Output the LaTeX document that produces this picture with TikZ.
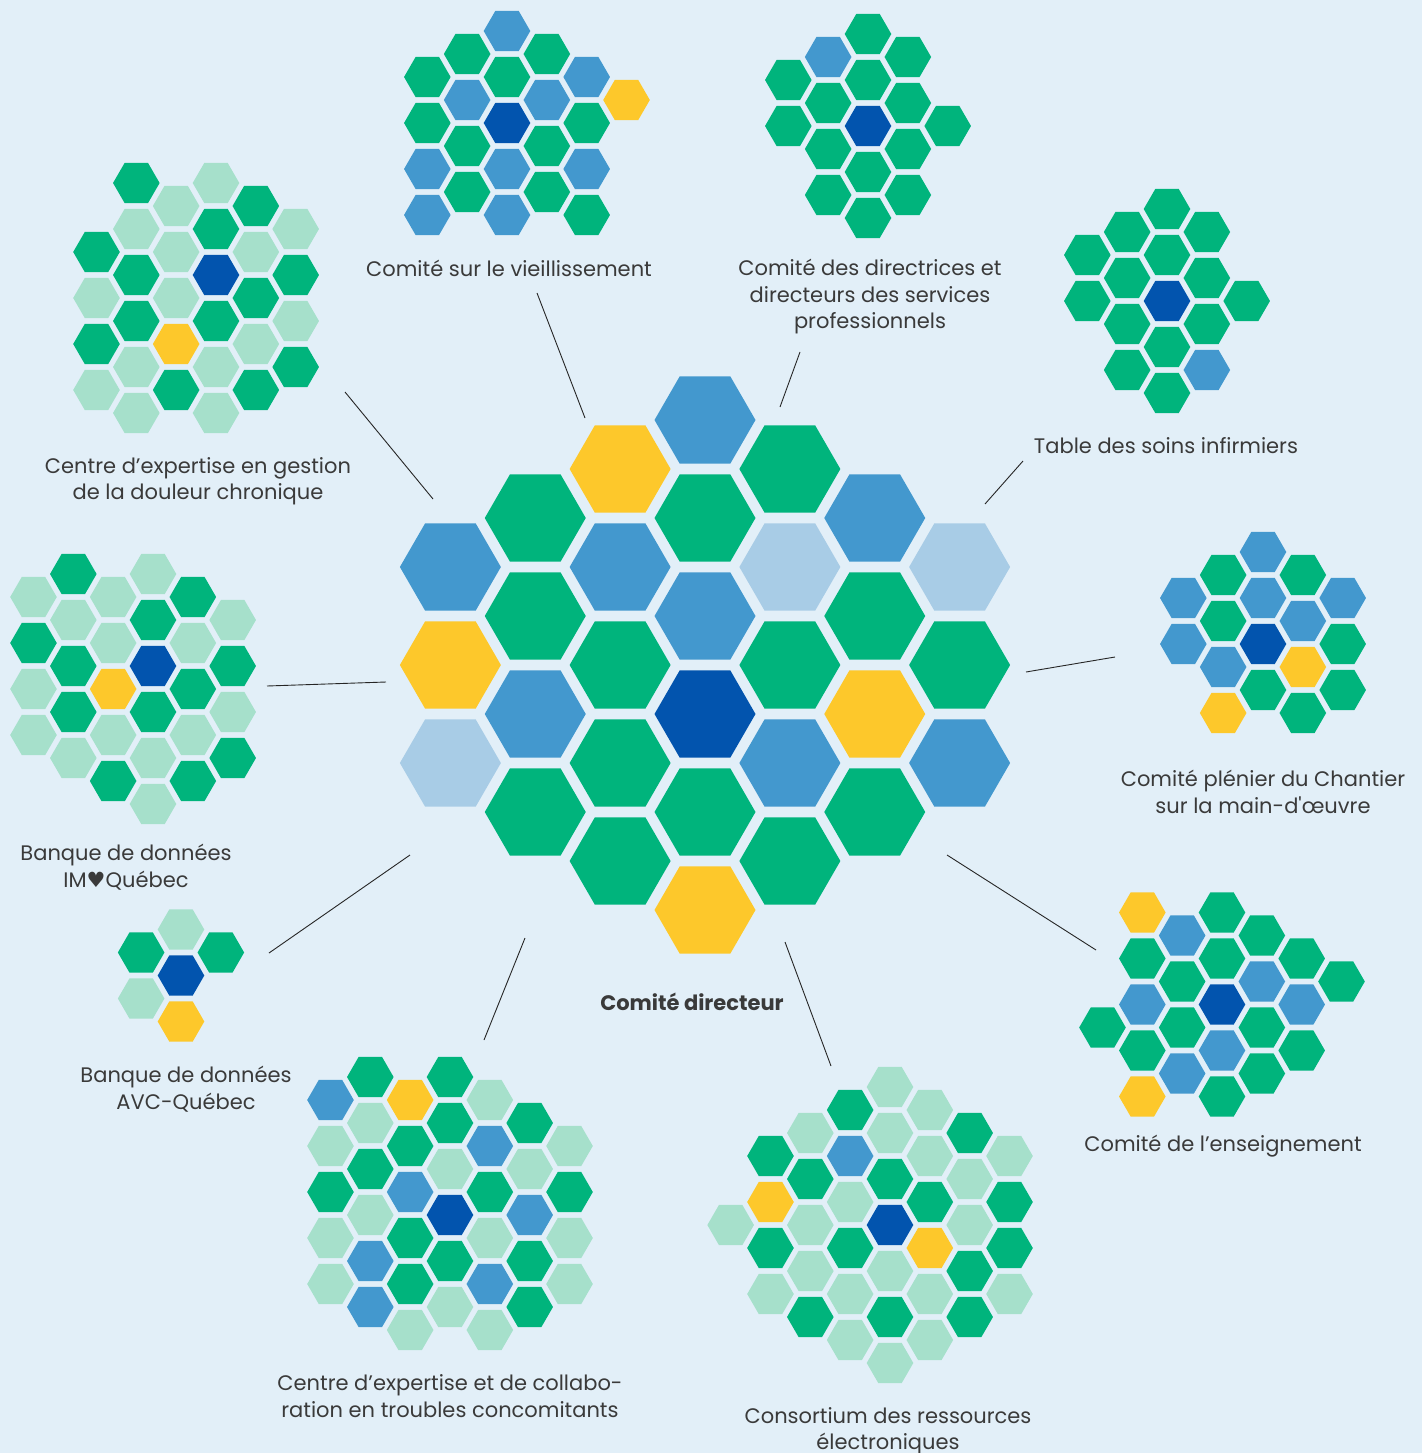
\documentclass[tikz,border=0pt]{standalone}
\usepackage{fontspec}
\setmainfont{Poppins}
\newfontfamily\symfont{DejaVu Sans}
\definecolor{bg}{HTML}{E2EFF8}
\definecolor{hG}{HTML}{00B47C}
\definecolor{hB}{HTML}{4398CE}
\definecolor{hD}{HTML}{0254AE}
\definecolor{hY}{HTML}{FDC82B}
\definecolor{hL}{HTML}{A8CCE6}
\definecolor{hM}{HTML}{A6E0CB}
\definecolor{txt}{HTML}{3A3A3A}
\newcommand\hexcluster[5]{%
  \foreach \c/\k/\col in {#5}{%
    \fill[\col] ({#1+(\c)*#3*0.8660254},{#2+(\k)*#3/2}) +(0:#4) -- +(60:#4) -- +(120:#4) -- +(180:#4) -- +(240:#4) -- +(300:#4) -- cycle;
  }}
\tikzset{
  lbl/.style={text=txt, font=\fontsize{21}{26.5}\selectfont, align=center, inner sep=0pt},
  conn/.style={draw=black!85, line width=0.9pt}
}
\begin{document}
\begin{tikzpicture}[x=1pt,y=-1pt]
\fill[bg] (0,0) rectangle (1422,1453);
\useasboundingbox (0,0) rectangle (1422,1453);

% central cluster
\hexcluster{705}{714}{98}{50.5}{-3/-3/hB,-3/-1/hY,-3/1/hL,
 -2/-4/hG,-2/-2/hG,-2/0/hB,-2/2/hG,
 -1/-5/hY,-1/-3/hB,-1/-1/hG,-1/1/hG,-1/3/hG,
 0/-6/hB,0/-4/hG,0/-2/hB,0/0/hD,0/2/hG,0/4/hY,
 1/-5/hG,1/-3/hL,1/-1/hG,1/1/hB,1/3/hG,
 2/-4/hB,2/-2/hG,2/0/hY,2/2/hG,
 3/-3/hL,3/-1/hG,3/1/hB}

% vieillissement
\hexcluster{507}{123}{46}{23.3}{-2/-2/hG,-2/0/hG,-2/2/hB,-2/4/hB,
 -1/-3/hG,-1/-1/hB,-1/1/hG,-1/3/hG,
 0/-4/hB,0/-2/hG,0/0/hD,0/2/hB,0/4/hB,
 1/-3/hG,1/-1/hB,1/1/hG,1/3/hG,
 2/-2/hB,2/0/hG,2/2/hB,2/4/hG,
 3/-1/hY}

% directrices
\hexcluster{868}{126}{46}{23.3}{-2/-2/hG,-2/0/hG,
 -1/-3/hB,-1/-1/hG,-1/1/hG,-1/3/hG,
 0/-4/hG,0/-2/hG,0/0/hD,0/2/hG,0/4/hG,
 1/-3/hG,1/-1/hG,1/1/hG,1/3/hG,
 2/0/hG}

% soins infirmiers
\hexcluster{1167}{301}{46}{23.3}{-2/-2/hG,-2/0/hG,
 -1/-3/hG,-1/-1/hG,-1/1/hG,-1/3/hG,
 0/-4/hG,0/-2/hG,0/0/hD,0/2/hG,0/4/hG,
 1/-3/hG,1/-1/hG,1/1/hG,1/3/hB,
 2/0/hG}

% plenier
\hexcluster{1263}{644}{46}{23.3}{-2/-2/hB,-2/0/hB,
 -1/-3/hG,-1/-1/hG,-1/1/hB,-1/3/hY,
 0/-4/hB,0/-2/hB,0/0/hD,0/2/hG,
 1/-3/hG,1/-1/hB,1/1/hY,1/3/hG,
 2/-2/hB,2/0/hG,2/2/hG}

% enseignement
\hexcluster{1222}{1004.5}{46}{23.3}{-3/1/hG,
 -2/-4/hY,-2/-2/hG,-2/0/hB,-2/2/hG,-2/4/hY,
 -1/-3/hB,-1/-1/hG,-1/1/hG,-1/3/hB,
 0/-4/hG,0/-2/hG,0/0/hD,0/2/hB,0/4/hG,
 1/-3/hG,1/-1/hB,1/1/hG,1/3/hG,
 2/-2/hG,2/0/hB,2/2/hG,
 3/-1/hG}

% consortium
\hexcluster{890}{1225}{46}{23.3}{-4/0/hM,
 -3/-3/hG,-3/-1/hY,-3/1/hG,-3/3/hM,
 -2/-4/hM,-2/-2/hG,-2/0/hM,-2/2/hM,-2/4/hG,
 -1/-5/hG,-1/-3/hB,-1/-1/hM,-1/1/hG,-1/3/hM,-1/5/hM,
 0/-6/hM,0/-4/hM,0/-2/hG,0/0/hD,0/2/hM,0/4/hG,0/6/hM,
 1/-5/hM,1/-3/hM,1/-1/hG,1/1/hY,1/3/hM,1/5/hM,
 2/-4/hG,2/-2/hM,2/0/hM,2/2/hG,2/4/hG,
 3/-3/hM,3/-1/hG,3/1/hG,3/3/hM}

% troubles concomitants
\hexcluster{450}{1215}{46}{23.3}{-3/-5/hB,-3/-3/hM,-3/-1/hG,-3/1/hM,-3/3/hM,
 -2/-6/hG,-2/-4/hM,-2/-2/hG,-2/0/hM,-2/2/hB,-2/4/hB,
 -1/-5/hY,-1/-3/hG,-1/-1/hB,-1/1/hG,-1/3/hG,-1/5/hM,
 0/-6/hG,0/-4/hG,0/-2/hM,0/0/hD,0/2/hG,0/4/hM,
 1/-5/hM,1/-3/hB,1/-1/hG,1/1/hM,1/3/hB,1/5/hM,
 2/-4/hG,2/-2/hM,2/0/hB,2/2/hG,2/4/hG,
 3/-3/hM,3/-1/hG,3/1/hM,3/3/hM}

% AVC
\hexcluster{181}{975.5}{46}{23.3}{-1/-1/hG,-1/1/hM,0/-2/hM,0/0/hD,0/2/hY,1/-1/hG}

% IM Quebec
\hexcluster{153}{666}{46}{23.3}{-3/-3/hM,-3/-1/hG,-3/1/hM,-3/3/hM,
 -2/-4/hG,-2/-2/hM,-2/0/hG,-2/2/hG,-2/4/hM,
 -1/-3/hM,-1/-1/hM,-1/1/hY,-1/3/hM,-1/5/hG,
 0/-4/hM,0/-2/hG,0/0/hD,0/2/hG,0/4/hM,0/6/hM,
 1/-3/hG,1/-1/hM,1/1/hG,1/3/hM,1/5/hG,
 2/-2/hM,2/0/hG,2/2/hM,2/4/hG}

% douleur
\hexcluster{216}{275}{46}{23.3}{-3/-1/hG,-3/1/hM,-3/3/hG,-3/5/hM,
 -2/-4/hG,-2/-2/hM,-2/0/hG,-2/2/hG,-2/4/hM,-2/6/hM,
 -1/-3/hM,-1/-1/hM,-1/1/hM,-1/3/hY,-1/5/hG,
 0/-4/hM,0/-2/hG,0/0/hD,0/2/hG,0/4/hM,0/6/hM,
 1/-3/hG,1/-1/hM,1/1/hG,1/3/hM,1/5/hG,
 2/-2/hM,2/0/hG,2/2/hM,2/4/hG}

% labels
\node[lbl] (Lv) at (509,268) {Comité sur le vieillissement};
\node[lbl] (Ld) at (870,297) {Comité des directrices et\\directeurs des services\\professionnels};
\node[lbl] (Ls) at (1166,446) {Table des soins infirmiers};
\node[lbl] (Lp) at (1263,792) {Comité plénier du Chantier\\sur la main-d\textquotesingle œuvre};
\node[lbl] (Le) at (1223,1146) {Comité de l’enseignement};
\node[lbl] (Lc) at (888,1431) {Consortium des ressources\\électroniques};
\node[lbl] (Lt) at (450,1396) {Centre d’expertise et de collabo-\\ration en troubles concomitants};
\node[lbl, font=\fontsize{21}{26.5}\selectfont\bfseries] (Lcd) at (692,1002) {Comité directeur};
\node[lbl] (La) at (186,1089) {Banque de données\\AVC-Québec};
\node[lbl] (Li) at (126,867) {Banque de données\\IM{\symfont ♥}Québec};
\node[lbl] (Lg) at (198,481) {Centre d’expertise en gestion\\de la douleur chronique};

% connectors
\coordinate (v1) at (537,293); \coordinate (v2) at (585,418);
\coordinate (d1) at (800,352); \coordinate (d2) at (780,407);
\coordinate (s1) at (1023,461); \coordinate (s2) at (985,504);
\coordinate (p1) at (1115,657); \coordinate (p2) at (1026,672);
\coordinate (e1) at (947,855); \coordinate (e2) at (1096,950);
\coordinate (c1) at (785,942); \coordinate (c2) at (831,1066);
\coordinate (t1) at (525,938); \coordinate (t2) at (484,1040);
\coordinate (a1) at (410,855); \coordinate (a2) at (269,953);
\coordinate (i1) at (386,682); \coordinate (i2) at (267,686);
\coordinate (g1) at (345,392); \coordinate (g2) at (433,499);
\foreach \u/\w in {v1/v2,d1/d2,s1/s2,p1/p2,e1/e2,c1/c2,t1/t2,a1/a2,i1/i2,g1/g2}
  \draw[conn] (\u) -- (\w);
\end{tikzpicture}
\end{document}
